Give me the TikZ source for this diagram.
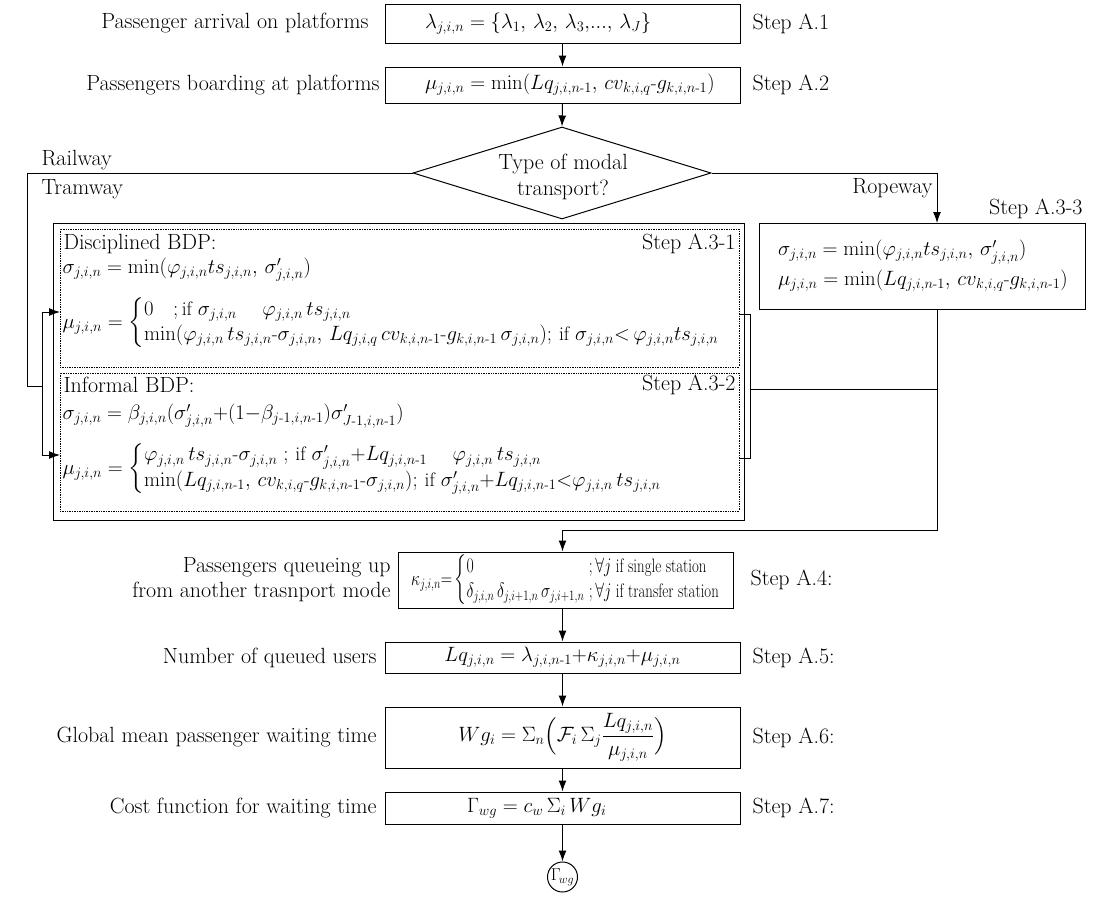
\documentclass[tikz,border=0pt]{standalone}
\usepackage{amsmath}
\usepackage{graphicx}
\usetikzlibrary{shapes.geometric,arrows.meta}
\newcommand{\mh}{\text{-}}
\newcommand{\lcases}[1]{\left\{\renewcommand{\arraystretch}{1.05}\begin{array}{@{}l@{}}#1\end{array}\right.}
\newcommand{\kcases}[1]{\left\{\renewcommand{\arraystretch}{1.05}\begin{array}{@{}l@{\ }l@{}}#1\end{array}\right.}
\begin{document}
\begin{tikzpicture}[x=1pt,y=-1pt,
  font=\fontsize{22}{26}\selectfont,
  line width=1pt,
  mf/.style={font=\fontsize{19.5}{24}\selectfont},
  box/.style={draw, line width=1pt, inner ysep=0pt, mf},
  lbl/.style={inner sep=0pt},
  arr/.style={-{Latex[length=11pt,width=8pt]}, line width=1pt},
  dotbox/.style={draw, densely dotted, line width=0.7pt, inner sep=0pt}]
\useasboundingbox (0,0) rectangle (1094,897);

% top boxes
\node[box, inner xsep=40pt, text width=275pt, align=left, minimum height=39pt] (b1) at (562.5,23.5)
  {\mbox{$\lambda_{j,i,n}=\{\lambda_{1},\,\lambda_{2},\,\lambda_{3},\!...,\,\lambda_{J}\}$}};
\node[box, inner xsep=40pt, text width=275pt, align=left, minimum height=36pt] (b2) at (562.5,85)
  {\mbox{$\mu_{j,i,n}=\min(Lq_{j,i,n\mh1},\,cv_{k,i,q}\mh g_{k,i,n\mh1})$}};
\node[lbl, anchor=east] (l1) at (369,23.5) {Passenger arrival on platforms};
\node[lbl, anchor=east] (l2) at (380,85) {Passengers boarding at platforms};
\node[lbl, anchor=west] (s1) at (752,23.5) {Step A.1};
\node[lbl, anchor=west] (s2) at (752,85) {Step A.2};

% decision
\node[diamond, draw, line width=1pt, shape aspect=3.2, minimum width=298pt, minimum height=92pt,
  inner sep=0pt] (dia) at (562,173) {};
\node[lbl, align=center] (diat) at (563,177) {Type of modal\\transport?};
\draw[arr] (b1.south) -- (b2.north);
\draw[arr] (b2.south) -- (dia.north);

\node[lbl, anchor=west] (rail) at (41,160) {Railway};
\node[lbl, anchor=west] (tram) at (41,189) {Tramway};
\node[lbl, anchor=east] (rope) at (933,188) {Ropeway};

% ropeway box
\node[box, inner xsep=19pt, text width=288pt, align=left, minimum height=86pt] (b3) at (922,266)
  {\mbox{$\sigma_{j,i,n}=\min(\varphi_{j,i,n}ts_{j,i,n},\,\sigma'_{j,i,n})$}\\[6pt]
   \mbox{$\mu_{j,i,n}=\min(Lq_{j,i,n\mh1},\,cv_{k,i,q}\mh g_{k,i,n\mh1})$}};
\node[lbl, anchor=east] (s33) at (1083,209) {Step A.3-3};

% BDP boxes
\node[draw, line width=1pt, inner sep=0pt, minimum width=691pt, minimum height=297pt] (outer) at (398.5,371.5) {};
\node[dotbox, minimum width=679pt, minimum height=138pt] (in1) at (399.5,298) {};
\node[dotbox, minimum width=679pt, minimum height=138pt] (in2) at (399.5,442) {};

\node[lbl, anchor=west] (t1) at (63,244) {Disciplined BDP:};
\node[lbl, anchor=east] (s31) at (736,244) {Step A.3-1};
\node[lbl, mf, anchor=west] (sg1) at (62,270) {$\sigma_{j,i,n}=\min(\varphi_{j,i,n}ts_{j,i,n},\,\sigma'_{j,i,n})$};
\node[lbl, mf, anchor=west] (mu1) at (62,323) {$\mu_{j,i,n}=\lcases{0\quad;\text{if }\sigma_{j,i,n}\quad\ \varphi_{j,i,n}\,ts_{j,i,n}\\
  \min(\varphi_{j,i,n}\,ts_{j,i,n}\mh\sigma_{j,i,n},\,Lq_{j,i,q}\,cv_{k,i,n\mh1}\mh g_{k,i,n\mh1}\,\sigma_{j,i,n});\,\text{if }\sigma_{j,i,n}{<}\,\varphi_{j,i,n}ts_{j,i,n}}$};

\node[lbl, anchor=west] (t2) at (63,385) {Informal BDP:};
\node[lbl, anchor=east] (s32) at (736,385) {Step A.3-2};
\node[lbl, mf, anchor=west] (sg2) at (62,416) {$\sigma_{j,i,n}=\beta_{j,i,n}(\sigma'_{j,i,n}{+}(1{-}\beta_{j\mh1,i,n\mh1})\sigma'_{J\mh1,i,n\mh1})$};
\node[lbl, mf, anchor=west] (mu2) at (62,469) {$\mu_{j,i,n}=\lcases{\varphi_{j,i,n}\,ts_{j,i,n}\mh\sigma_{j,i,n}\ ;\,\text{if }\sigma'_{j,i,n}{+}Lq_{j,i,n\mh1}\quad\ \varphi_{j,i,n}\,ts_{j,i,n}\\
  \min(Lq_{j,i,n\mh1},\,cv_{k,i,q}\mh g_{k,i,n\mh1}\mh\sigma_{j,i,n});\,\text{if }\sigma'_{j,i,n}{+}Lq_{j,i,n\mh1}{<}\varphi_{j,i,n}\,ts_{j,i,n}}$};

% left branch
\coordinate (L1) at (27,386);
\coordinate (L2) at (42,386);
\coordinate (A1) at (60,312);
\coordinate (A2) at (60,455);
\draw (dia.west) -| (L1) -- (L2);
\draw[arr] (L2) |- (A1);
\draw[arr] (L2) |- (A2);

% right branch
\coordinate (RT) at (937,223);
\coordinate (RB) at (937,309);
\coordinate (J) at (562.5,530);
\draw[arr] (dia.east) -| (RT);
\coordinate (R1) at (750,314);
\coordinate (R2) at (750,458);
\coordinate (R3) at (750,389);
\draw (in1.east |- R1) -- (R1) -- (R2) -- (in2.east |- R2);
\draw (R3) -- (R3 -| RB);

% lower boxes
\node[box, inner xsep=0pt, minimum width=335pt, minimum height=56pt] (b4) at (565.5,580)
  {\scalebox{0.76}[1]{$\kappa_{j,i,n}{=}\kcases{0 & ;\forall j\ \text{if single station}\\
   \delta_{j,i,n}\,\delta_{j,i+1,n}\,\sigma_{j,i+1,n} & ;\forall j\ \text{if transfer station}}$}};
\draw[arr] (RB) |- (J) -- (b4.north -| J);
\node[lbl, anchor=east, align=right, font=\fontsize{22}{25}\selectfont] (l4) at (391,580) {Passengers queueing up\\from another trasnport mode};
\node[lbl, anchor=west] (s4) at (750,580) {Step A.4:};

\node[box, minimum width=355pt, minimum height=31pt] (b5) at (562.5,657.5)
  {$Lq_{j,i,n}=\lambda_{j,i,n\mh1}{+}\kappa_{j,i,n}{+}\mu_{j,i,n}$};
\node[lbl, anchor=east] (l5) at (377,657.5) {Number of queued users};
\node[lbl, anchor=west] (s5) at (752,657.5) {Step A.5:};

\node[box, minimum width=355pt, minimum height=61pt] (b6) at (562.5,737.5)
  {$Wg_i=\Sigma_n\Big(\mathcal{F}_i\,\Sigma_j\dfrac{Lq_{j,i,n}}{\mu_{j,i,n}}\Big)$};
\node[lbl, anchor=east] (l6) at (377,737.5) {Global mean passenger waiting time};
\node[lbl, anchor=west] (s6) at (752,737.5) {Step A.6:};

\node[box, inner xsep=82pt, text width=191pt, align=left, minimum height=32pt] (b7) at (562.5,808)
  {\mbox{$\Gamma_{wg}=c_w\,\Sigma_i\,Wg_i$}};
\node[lbl, anchor=east] (l7) at (377,808) {Cost function for waiting time};
\node[lbl, anchor=west] (s7) at (752,808) {Step A.7:};

\node[draw, circle, line width=1pt, minimum size=30pt, inner sep=0pt, font=\fontsize{18}{20}\selectfont] (end) at (562.5,877) {$\Gamma_{\!wg}$};

\draw[arr] (b4.south -| J) -- (b5.north);
\draw[arr] (b5.south) -- (b6.north);
\draw[arr] (b6.south) -- (b7.north);
\draw[arr] (b7.south) -- (end.north);
\end{tikzpicture}
\end{document}
